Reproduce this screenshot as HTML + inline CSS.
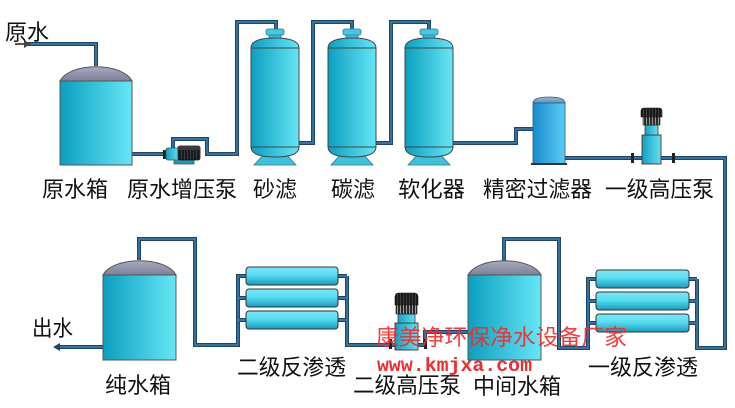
<!DOCTYPE html>
<html><head><meta charset="utf-8">
<style>
html,body{margin:0;padding:0;background:#fff;}
svg{display:block;}
text{font-family:"Liberation Sans","Noto Sans CJK SC",sans-serif;}
</style></head>
<body>
<svg width="735" height="408" viewBox="0 0 735 408" xmlns="http://www.w3.org/2000/svg">
<defs>
  <linearGradient id="tg" x1="0" y1="0" x2="1" y2="0">
    <stop offset="0" stop-color="#0b9fbf"/><stop offset="1" stop-color="#66e6f6"/>
  </linearGradient>
  <linearGradient id="dg" x1="0" y1="0" x2="0" y2="1">
    <stop offset="0" stop-color="#a9abbf"/><stop offset="1" stop-color="#7c7f97"/>
  </linearGradient>
  <linearGradient id="rg" x1="0" y1="0" x2="0" y2="1">
    <stop offset="0" stop-color="#7ae8f7"/><stop offset="0.45" stop-color="#58dcf0"/><stop offset="1" stop-color="#169cbd"/>
  </linearGradient>
  <linearGradient id="fg" x1="0" y1="0" x2="1" y2="0">
    <stop offset="0" stop-color="#168ccc"/><stop offset="1" stop-color="#5ccbf3"/>
  </linearGradient>
  <linearGradient id="fdg" x1="0" y1="0" x2="0" y2="1">
    <stop offset="0" stop-color="#9ab8d0"/><stop offset="1" stop-color="#5b93c0"/>
  </linearGradient>
  <linearGradient id="pg" x1="0" y1="0" x2="1" y2="0">
    <stop offset="0" stop-color="#14a0c0"/><stop offset="1" stop-color="#62e0f2"/>
  </linearGradient>
  <pattern id="grille" width="3" height="10" patternUnits="userSpaceOnUse">
    <rect width="3" height="10" fill="#2a2a2a"/><rect x="1" width="1" height="10" fill="#9a9a9a"/>
  </pattern>
  <pattern id="rib" width="3" height="10" patternUnits="userSpaceOnUse">
    <rect width="3" height="10" fill="#1a1a1a"/><rect x="1" width="1" height="10" fill="#3c3c3c"/>
  </pattern>
</defs>

<!-- PIPES -->
<g fill="none" stroke-linejoin="miter">
  <g stroke="#1f4466" stroke-width="4">
    <path d="M28,44 H96 V66"/>
    <path d="M132,154 H166"/>
    <path d="M173,148 V139 H207 V154 H237 V22 H276 V31"/>
    <path d="M299,143 H313 V22 H352 V31"/>
    <path d="M376,143 H391 V22 H429 V31"/>
    <path d="M453,143 H516 V129 H533"/>
    <path d="M565,158 H725 V348 H697 V279"/>
    <path d="M689,279 H697 M689,301 H697 M689,323 H697"/>
    <path d="M596,279 H588 V348 H559 V239 H504 V261"/>
    <path d="M588,301 H596 M588,323 H596"/>
    <path d="M468,332 H425 V345 H347 V276"/>
    <path d="M338,276 H347 M338,298 H347 M338,320 H347"/>
    <path d="M246,276 H238 V345 H195 V239 H139 V260"/>
    <path d="M238,298 H246 M238,320 H246"/>
    <path d="M103,347 H58"/>
  </g>
  <g stroke="#3f82b6" stroke-width="1.4">
    <path d="M28,44 H96 V66"/>
    <path d="M132,154 H166"/>
    <path d="M173,148 V139 H207 V154 H237 V22 H276 V31"/>
    <path d="M299,143 H313 V22 H352 V31"/>
    <path d="M376,143 H391 V22 H429 V31"/>
    <path d="M453,143 H516 V129 H533"/>
    <path d="M565,158 H725 V348 H697 V279"/>
    <path d="M689,279 H697 M689,301 H697 M689,323 H697"/>
    <path d="M596,279 H588 V348 H559 V239 H504 V261"/>
    <path d="M588,301 H596 M588,323 H596"/>
    <path d="M468,332 H425 V345 H347 V276"/>
    <path d="M338,276 H347 M338,298 H347 M338,320 H347"/>
    <path d="M246,276 H238 V345 H195 V239 H139 V260"/>
    <path d="M238,298 H246 M238,320 H246"/>
    <path d="M103,347 H58"/>
  </g>
</g>
<!-- arrows -->
<path d="M15,44 H27" stroke="#555" stroke-width="2"/>
<polygon points="31,44 24,40 24,48" fill="#444"/>
<polygon points="53,347 60,343 60,351" fill="#1f4466"/>

<!-- TANK 1 原水箱 -->
<path d="M60,81 C70,62 122,62 132,81 Z" fill="url(#dg)" stroke="#555" stroke-width="1"/>
<rect x="60" y="81" width="72" height="84" fill="url(#tg)" stroke="#555" stroke-width="1"/>

<!-- PUMP horizontal -->
<rect x="174" y="159" width="20" height="5" fill="#1a9ab8" stroke="#2a5f70" stroke-width="0.8"/>
<rect x="163" y="150" width="3" height="9" fill="#222"/>
<rect x="166" y="148" width="13" height="12" rx="2" fill="url(#pg)" stroke="#2a5f70" stroke-width="0.8"/>
<rect x="178" y="146" width="22" height="14" rx="2" fill="url(#rib)" stroke="#111" stroke-width="0.8"/>
<rect x="178" y="146" width="22" height="4" rx="1" fill="#3a3a3a"/>

<!-- VESSELS -->
<g id="v1" transform="translate(275,0)">
  <polygon points="-11,154 11,154 21,165 -21,165" fill="#3cc2da" stroke="#2a7a90" stroke-width="0.8"/>
  <rect x="-6" y="34" width="12" height="6" fill="#3cbcd6" stroke="#2a7a90" stroke-width="0.8"/>
  <rect x="-9" y="29" width="18" height="6" rx="2" fill="#48c8e0" stroke="#2a7a90" stroke-width="0.8"/>
  <path d="M-24,48 Q-24,38 0,38 Q24,38 24,48 Z" fill="url(#tg)" stroke="#444" stroke-width="1"/>
  <path d="M-24,147 Q-24,157 0,157 Q24,157 24,147 Z" fill="url(#tg)" stroke="#444" stroke-width="1"/>
  <rect x="-24" y="48" width="48" height="99" fill="url(#tg)" stroke="#444" stroke-width="1"/>
</g>
<g transform="translate(352,0)">
  <polygon points="-11,154 11,154 21,165 -21,165" fill="#3cc2da" stroke="#2a7a90" stroke-width="0.8"/>
  <rect x="-6" y="34" width="12" height="6" fill="#3cbcd6" stroke="#2a7a90" stroke-width="0.8"/>
  <rect x="-9" y="29" width="18" height="6" rx="2" fill="#48c8e0" stroke="#2a7a90" stroke-width="0.8"/>
  <path d="M-24,48 Q-24,38 0,38 Q24,38 24,48 Z" fill="url(#tg)" stroke="#444" stroke-width="1"/>
  <path d="M-24,147 Q-24,157 0,157 Q24,157 24,147 Z" fill="url(#tg)" stroke="#444" stroke-width="1"/>
  <rect x="-24" y="48" width="48" height="99" fill="url(#tg)" stroke="#444" stroke-width="1"/>
</g>
<g transform="translate(429,0)">
  <polygon points="-11,154 11,154 21,165 -21,165" fill="#3cc2da" stroke="#2a7a90" stroke-width="0.8"/>
  <rect x="-6" y="34" width="12" height="6" fill="#3cbcd6" stroke="#2a7a90" stroke-width="0.8"/>
  <rect x="-9" y="29" width="18" height="6" rx="2" fill="#48c8e0" stroke="#2a7a90" stroke-width="0.8"/>
  <path d="M-24,48 Q-24,38 0,38 Q24,38 24,48 Z" fill="url(#tg)" stroke="#444" stroke-width="1"/>
  <path d="M-24,147 Q-24,157 0,157 Q24,157 24,147 Z" fill="url(#tg)" stroke="#444" stroke-width="1"/>
  <rect x="-24" y="48" width="48" height="99" fill="url(#tg)" stroke="#444" stroke-width="1"/>
</g>

<!-- PRECISION FILTER -->
<path d="M533,103 Q533,97 549,97 Q565,97 565,103 Z" fill="url(#fdg)" stroke="#3a5a78" stroke-width="0.8"/>
<rect x="533" y="103" width="32" height="61" fill="url(#fg)" stroke="#2a5a80" stroke-width="0.8"/>
<rect x="531" y="163" width="36" height="2" fill="#333"/>

<!-- PUMP 1 vertical -->
<g>
  <rect x="631" y="153" width="3" height="10" fill="#222"/>
  <rect x="672" y="153" width="3" height="10" fill="#222"/>
  <rect x="642" y="135" width="19" height="29" fill="url(#pg)" stroke="#5a2a2a" stroke-width="0.9"/>
  <rect x="645" y="125" width="13" height="10" fill="url(#pg)" stroke="#3a3a3a" stroke-width="0.8"/>
  <rect x="643" y="115" width="17" height="10" fill="url(#grille)" stroke="#222" stroke-width="0.6"/>
  <path d="M641,117 V111 Q641,108 644,108 H659 Q662,108 662,111 V117 Z" fill="url(#rib)" stroke="#111" stroke-width="0.6"/>
</g>

<!-- RO 1 -->
<rect x="596" y="270" width="93" height="18" rx="3" fill="url(#rg)" stroke="#333" stroke-width="1"/>
<rect x="596" y="292" width="93" height="18" rx="3" fill="url(#rg)" stroke="#333" stroke-width="1"/>
<rect x="596" y="314" width="93" height="18" rx="3" fill="url(#rg)" stroke="#333" stroke-width="1"/>

<!-- MIDDLE TANK -->
<path d="M468,275 C478,256 531,256 541,275 Z" fill="url(#dg)" stroke="#555" stroke-width="1"/>
<rect x="468" y="275" width="73" height="85" fill="url(#tg)" stroke="#555" stroke-width="1"/>

<!-- PUMP 2 vertical -->
<g>
  <rect x="389" y="339" width="3" height="10" fill="#222"/>
  <rect x="424" y="339" width="3" height="10" fill="#222"/>
  <rect x="395" y="323" width="23" height="27" fill="url(#pg)" stroke="#5a2a2a" stroke-width="0.9"/>
  <rect x="398" y="314" width="17" height="9" fill="url(#pg)" stroke="#3a3a3a" stroke-width="0.8"/>
  <rect x="396" y="303" width="21" height="11" fill="url(#grille)" stroke="#222" stroke-width="0.6"/>
  <path d="M395,305 V297 Q395,293 399,293 H414 Q418,293 418,297 V305 Z" fill="url(#rib)" stroke="#111" stroke-width="0.6"/>
</g>

<!-- RO 2 -->
<rect x="246" y="267" width="92" height="18" rx="3" fill="url(#rg)" stroke="#333" stroke-width="1"/>
<rect x="246" y="289" width="92" height="18" rx="3" fill="url(#rg)" stroke="#333" stroke-width="1"/>
<rect x="246" y="311" width="92" height="18" rx="3" fill="url(#rg)" stroke="#333" stroke-width="1"/>

<!-- PURE WATER TANK -->
<path d="M103,275 C113,256 166,256 176,275 Z" fill="url(#dg)" stroke="#555" stroke-width="1"/>
<rect x="103" y="275" width="73" height="85" fill="url(#tg)" stroke="#555" stroke-width="1"/>

<!-- LABELS -->
<g font-size="22" fill="#111">
  <text x="5" y="40" textLength="44" lengthAdjust="spacingAndGlyphs">原水</text>
  <text x="42" y="197" textLength="66" lengthAdjust="spacingAndGlyphs">原水箱</text>
  <text x="127" y="197" textLength="110" lengthAdjust="spacingAndGlyphs">原水增压泵</text>
  <text x="253" y="197" textLength="44" lengthAdjust="spacingAndGlyphs">砂滤</text>
  <text x="331" y="197" textLength="44" lengthAdjust="spacingAndGlyphs">碳滤</text>
  <text x="398" y="197" textLength="67" lengthAdjust="spacingAndGlyphs">软化器</text>
  <text x="483" y="197" textLength="109" lengthAdjust="spacingAndGlyphs">精密过滤器</text>
  <text x="605" y="197" textLength="109" lengthAdjust="spacingAndGlyphs">一级高压泵</text>
  <text x="32" y="336" textLength="41" lengthAdjust="spacingAndGlyphs">出水</text>
  <text x="105" y="393" textLength="66" lengthAdjust="spacingAndGlyphs">纯水箱</text>
  <text x="237" y="375" textLength="109" lengthAdjust="spacingAndGlyphs">二级反渗透</text>
  <text x="353" y="393" textLength="108" lengthAdjust="spacingAndGlyphs">二级高压泵</text>
  <text x="473" y="394" textLength="88" lengthAdjust="spacingAndGlyphs">中间水箱</text>
  <text x="588" y="375" textLength="110" lengthAdjust="spacingAndGlyphs">一级反渗透</text>
</g>

<!-- WATERMARK -->
<text x="376" y="345" font-size="22" fill="#f52a2a" fill-opacity="0.92" textLength="251" lengthAdjust="spacingAndGlyphs">康美净环保净水设备厂家</text>
<text x="377" y="371" font-size="19" font-weight="bold" fill="#f52a2a" style="font-family:'Liberation Mono',monospace" textLength="155" lengthAdjust="spacingAndGlyphs">www.kmjxa.com</text>
</svg>
</body></html>
